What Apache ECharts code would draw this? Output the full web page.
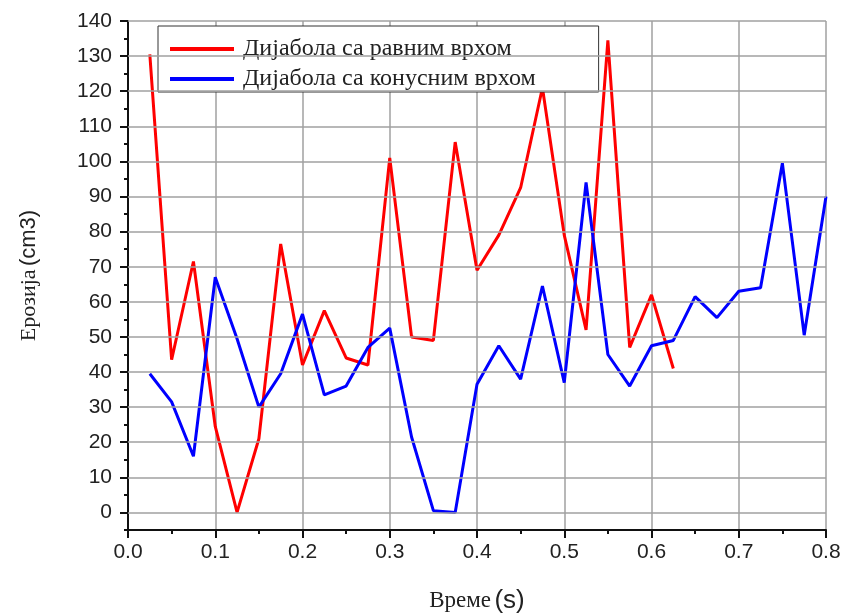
<!DOCTYPE html>
<html>
<head>
<meta charset="utf-8">
<script src="https://cdn.jsdelivr.net/npm/echarts@6/dist/echarts.min.js"></script>
<style>html,body{margin:0;padding:0;background:#fff}#c{width:844px;height:614px}</style>
</head>
<body>
<div id="c"></div>
<script>
const timeValues = [0.025,0.05,0.075,0.1,0.125,0.15,0.175,0.2,0.225,0.25,0.275,0.3,0.325,0.35,0.375,0.4,0.425,0.45,0.475,0.5,0.525,0.55,0.575,0.6,0.625,0.65,0.675,0.7,0.725,0.75,0.775,0.8];
const flatTop = [130.5,43.5,71.5,24.5,0,21,76.5,42,57.5,44,42,101,50,49,105.5,69,79,92.5,121,79,52,134.5,47,62,41];
const coneTop = [39.5,31.5,16,67,49.5,30,39.5,56.5,33.5,36,47,52.5,21.5,0.5,0,36.5,47.5,38,64.5,37,94,45,36,47.5,49,61.5,55.5,63,64,99.5,50.5,90];
const yMajorTicks = [0,10,20,30,40,50,60,70,80,90,100,110,120,130,140];
const xTickLabels = ['0.0','0.1','0.2','0.3','0.4','0.5','0.6','0.7','0.8'];
const seriesNames = ['Дијабола са равним врхом','Дијабола са конусним врхом'];

const pairs = (vals) => vals.map((v, i) => [timeValues[i], v]);
const chart = echarts.init(document.getElementById('c'), null, {renderer: 'canvas'});
const sans = 'Liberation Sans, Arial, sans-serif';
const serif = 'Liberation Serif, Times New Roman, serif';
chart.setOption({
  animation: false,
  backgroundColor: '#fff',
  grid: {left: 128, right: 18, top: 21, bottom: 84, containLabel: false, outerBoundsMode: 'none'},
  legend: {
    orient: 'vertical', left: 158, top: 26,
    data: seriesNames,
    icon: 'rect', itemWidth: 64, itemHeight: 4, itemGap: 6,
    padding: [11, 63, 1, 12],
    borderColor: '#333', borderWidth: 1, backgroundColor: '#fff',
    textStyle: {fontFamily: serif, fontSize: 24, color: '#222', padding: [0, 0, 0, 4]}
  },
  xAxis: {
    type: 'value', min: 0, max: 0.8, interval: 0.1,
    name: '{a|Време} {b|(s)}', nameLocation: 'middle', nameGap: 58,
    nameTextStyle: {rich: {a: {fontFamily: serif, fontSize: 23, color: '#222'}, b: {fontFamily: sans, fontSize: 26, color: '#222'}}},
    axisLine: {onZero: false, lineStyle: {color: '#111', width: 2}},
    axisTick: {show: true, length: 8, lineStyle: {color: '#111', width: 2}},
    minorTick: {show: true, splitNumber: 2, length: 4, lineStyle: {color: '#111', width: 2}},
    axisLabel: {fontFamily: sans, fontSize: 21, color: '#222', margin: 12,
      formatter: (v) => xTickLabels[Math.round(v * 10)]},
    splitLine: {show: true, lineStyle: {color: '#a0a0a0', width: 1.5}}
  },
  yAxis: [{
    type: 'value', min: -5, max: 140, interval: 5,
    name: '{a|Ерозија} {b|(cm3)}', nameLocation: 'middle', nameGap: 88,
    nameTextStyle: {rich: {a: {fontFamily: serif, fontSize: 22, color: '#222'}, b: {fontFamily: sans, fontSize: 22, color: '#222'}}},
    axisLine: {show: true, onZero: false, lineStyle: {color: '#111', width: 2}},
    axisTick: {show: true, length: 8, customValues: yMajorTicks, lineStyle: {color: '#111', width: 2}},
    axisLabel: {fontFamily: sans, fontSize: 21, color: '#222', margin: 16, customValues: yMajorTicks},
    splitLine: {show: false}
  }, {
    type: 'value', min: -5, max: 140, interval: 5, position: 'left',
    axisLine: {show: false},
    axisTick: {show: true, length: 4, lineStyle: {color: '#111', width: 2}},
    axisLabel: {show: false},
    splitLine: {show: false}
  }],
  series: [{
    name: 'grid', type: 'line', data: [], silent: true, z: 1,
    markLine: {
      silent: true, symbol: 'none', label: {show: false}, animation: false,
      lineStyle: {color: '#a0a0a0', width: 1.5, type: 'solid'},
      data: yMajorTicks.map(v => ({yAxis: v}))
    }
  }, {
    name: seriesNames[0], type: 'line', data: pairs(flatTop), symbol: 'none', z: 3,
    lineStyle: {color: '#ff0000', width: 3}, itemStyle: {color: '#ff0000'}
  }, {
    name: seriesNames[1], type: 'line', data: pairs(coneTop), symbol: 'none', z: 3,
    lineStyle: {color: '#0000ff', width: 3}, itemStyle: {color: '#0000ff'}
  }]
});
</script>
</body>
</html>
